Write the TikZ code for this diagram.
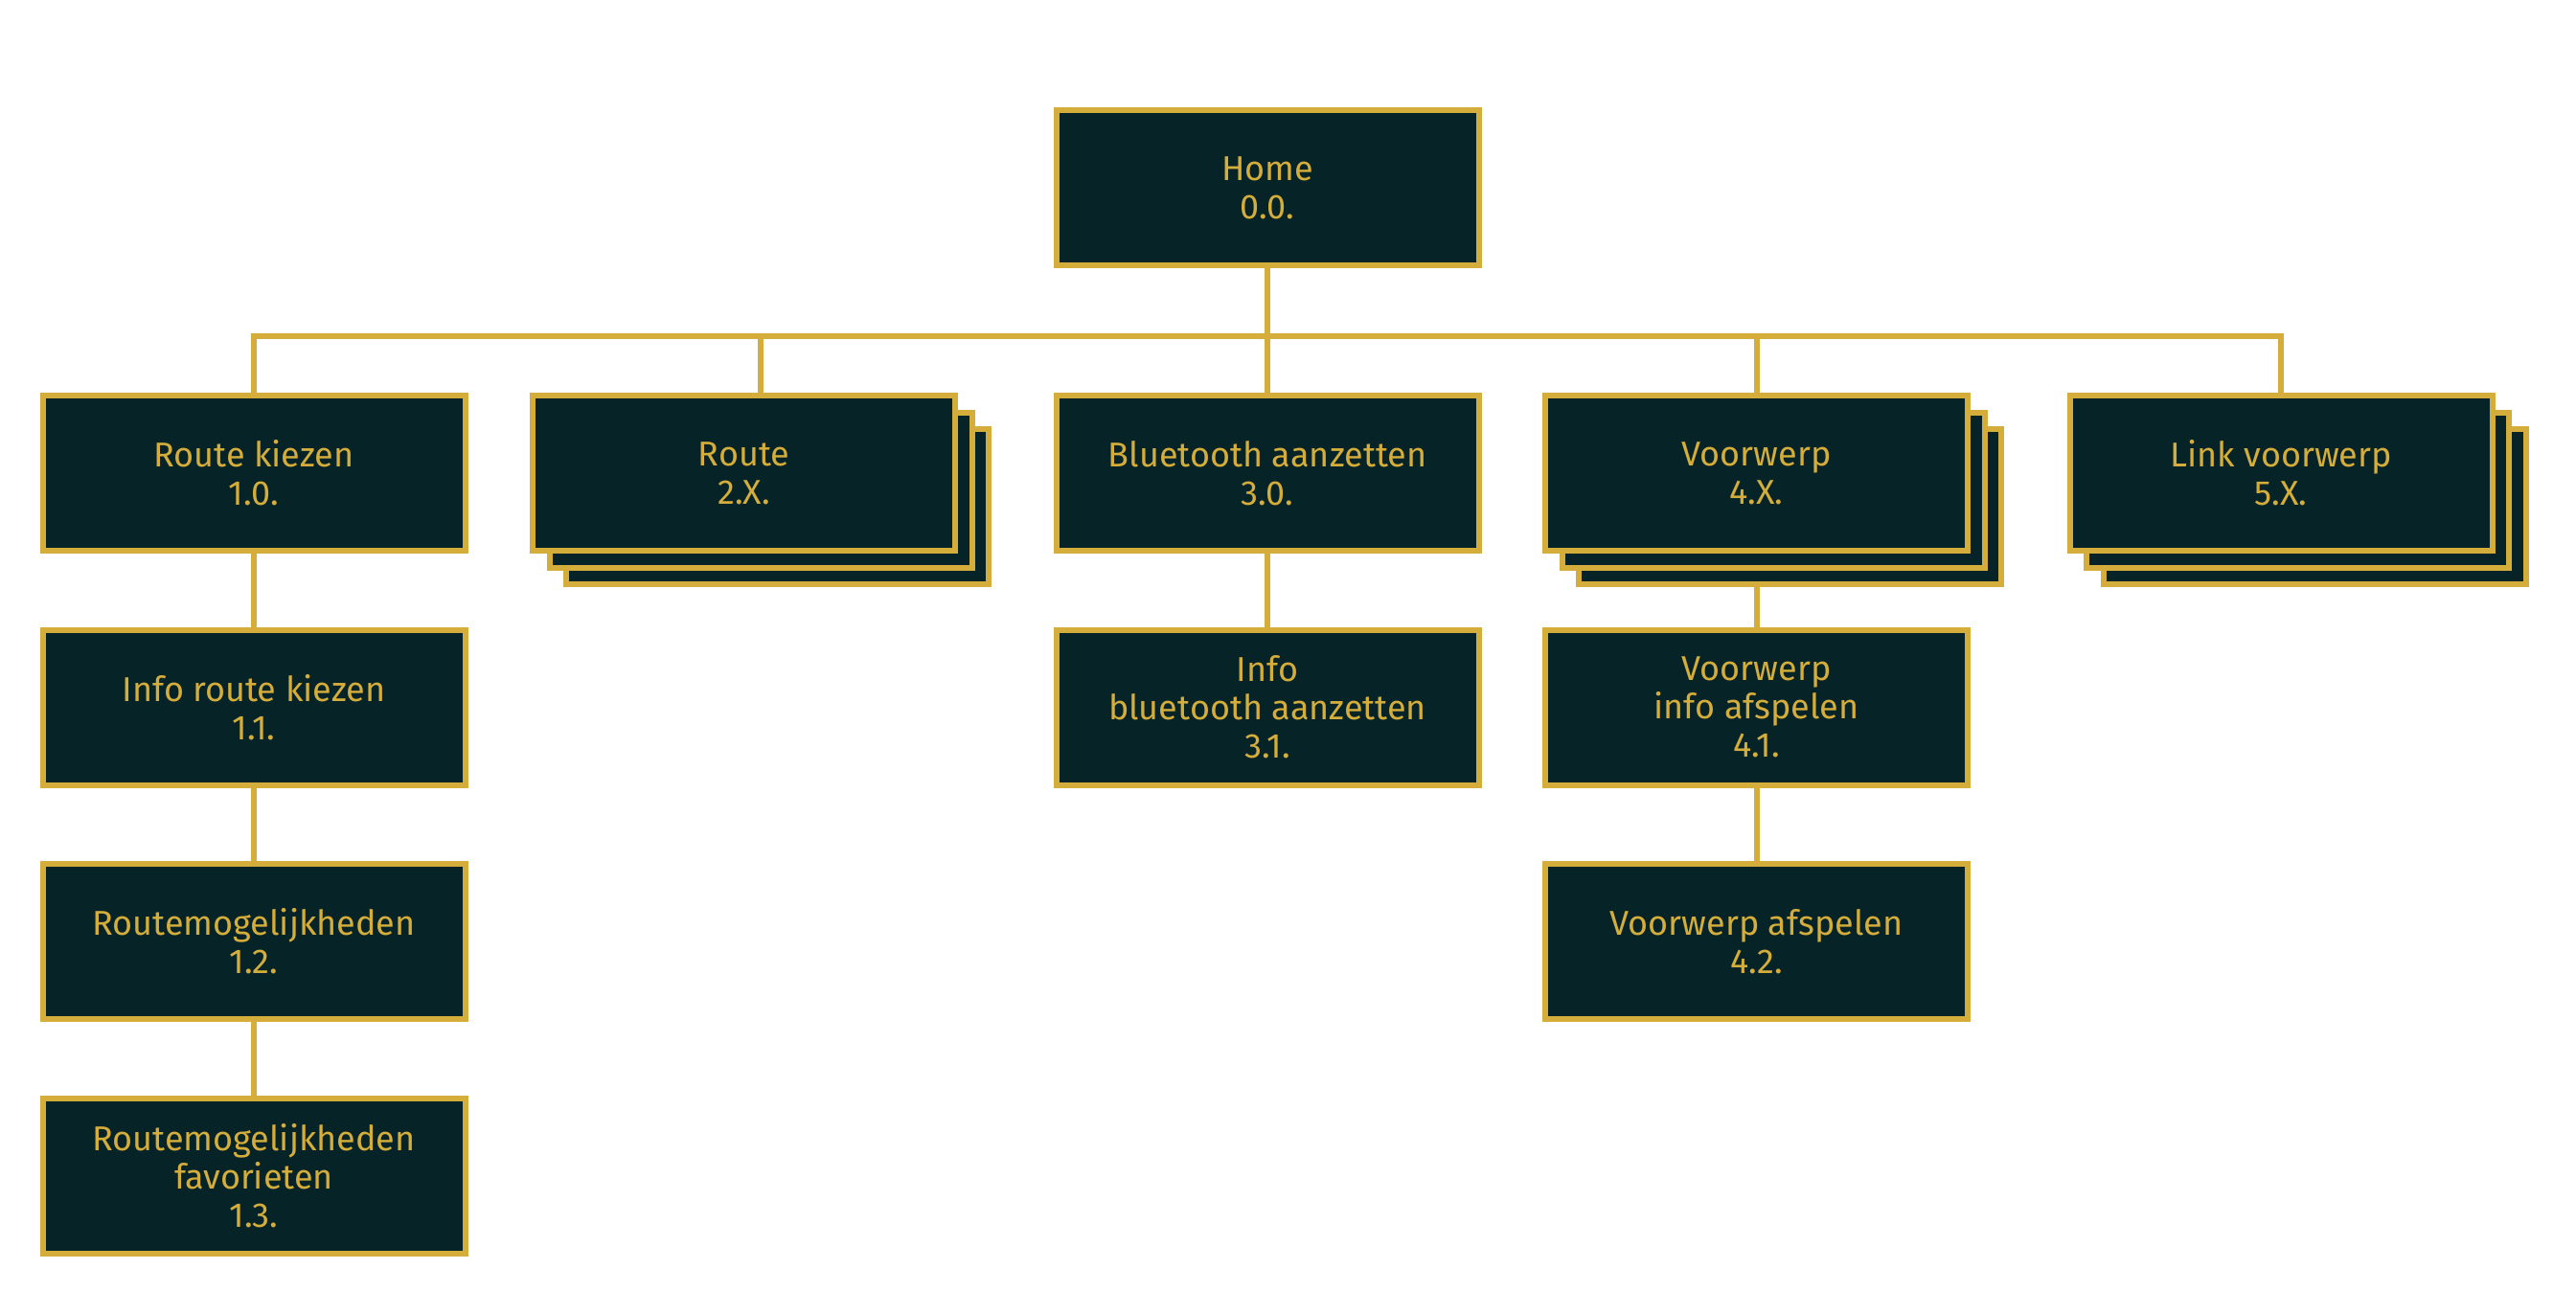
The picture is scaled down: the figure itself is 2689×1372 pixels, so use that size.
\documentclass[tikz,border=0pt]{standalone}
\usepackage{fontspec}
\setmainfont{Fira Sans}
\definecolor{boxfill}{HTML}{062428}
\definecolor{gold}{HTML}{D5AD3A}
\begin{document}
\begin{tikzpicture}[x=1pt,y=-1pt,
  card/.style={draw=gold, fill=boxfill, line width=6pt, minimum width=441pt, minimum height=162pt,
    inner sep=0pt, text=gold, align=center, font=\fontsize{36}{40}\selectfont},
  backcard/.style={card},
  link/.style={draw=gold, line width=6pt}]
\useasboundingbox (0,0) rectangle (2689,1372);
% home
\node[card] (home) at (1323,196) {Home\\0.0.};
% column 1
\node[card] (c10) at (265,494) {Route kiezen\\1.0.};
\node[card] (c11) at (265,738.5) {Info route kiezen\\1.1.};
\node[card] (c12) at (265,983) {Routemogelijkheden\\1.2.};
\node[card] (c13) at (265,1227.5) {Routemogelijkheden\\favorieten\\1.3.};
% column 2 stack
\node[backcard] (r2c) at (811.5,529) {};
\node[backcard] (r2b) at (794,511.5) {};
\node[card] (r2) at (776.5,494) {Route\\2.X.};
% column 3
\node[card] (c30) at (1323,494) {Bluetooth aanzetten\\3.0.};
\node[card] (c31) at (1323,738.5) {Info\\bluetooth aanzetten\\3.1.};
% column 4 stack
\node[backcard] (v4c) at (1868.5,529) {};
\node[backcard] (v4b) at (1851,511.5) {};
\node[card] (v4) at (1833.5,494) {Voorwerp\\4.X.};
\node[card] (c41) at (1833.5,738.5) {Voorwerp\\info afspelen\\4.1.};
\node[card] (c42) at (1833.5,983) {Voorwerp afspelen\\4.2.};
% column 5 stack
\node[backcard] (l5c) at (2416,529) {};
\node[backcard] (l5b) at (2398.5,511.5) {};
\node[card] (l5) at (2381,494) {Link voorwerp\\5.X.};
% connectors
\coordinate (bar) at (1323,351);
\draw[link] (home.south) -- (bar);
\draw[link] (bar) -| (c10.north);
\draw[link] (bar) -| (r2b |- r2.north);
\draw[link] (bar) -- (c30.north);
\draw[link] (bar) -| (v4.north);
\draw[link] (bar) -| (l5.north);
\draw[link] (c10.south) -- (c11.north);
\draw[link] (c11.south) -- (c12.north);
\draw[link] (c12.south) -- (c13.north);
\draw[link] (c30.south) -- (c31.north);
\draw[link] (v4 |- v4c.south) -- (c41.north);
\draw[link] (c41.south) -- (c42.north);
\end{tikzpicture}
\end{document}
